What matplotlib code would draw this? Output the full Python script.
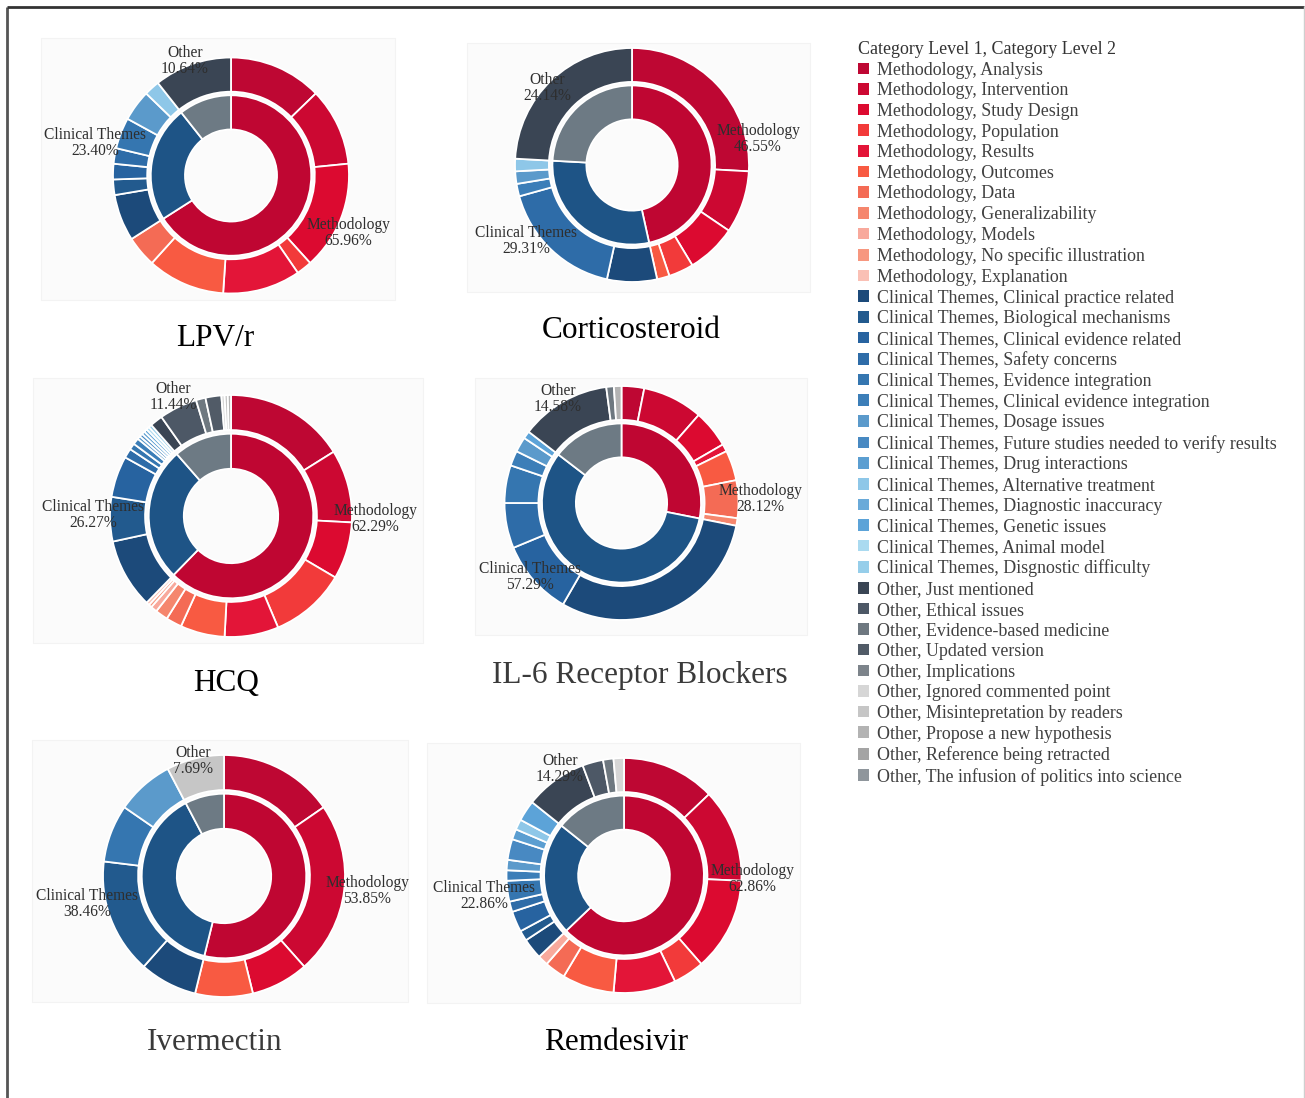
import matplotlib
matplotlib.use('Agg')
import matplotlib.pyplot as plt
from matplotlib.patches import Patch, Rectangle

plt.rcParams['font.family'] = ['Liberation Serif', 'DejaVu Serif']

W, H = 1305, 1098

# ---------------- data ----------------
group_names = ['Methodology', 'Clinical Themes', 'Other']

meth_names = ['Analysis', 'Intervention', 'Study Design', 'Population', 'Results',
              'Outcomes', 'Data', 'Generalizability', 'Models',
              'No specific illustration', 'Explanation']
clin_names = ['Clinical practice related', 'Biological mechanisms',
              'Clinical evidence related', 'Safety concerns', 'Evidence integration',
              'Clinical evidence integration', 'Dosage issues',
              'Future studies needed to verify results', 'Drug interactions',
              'Alternative treatment', 'Diagnostic inaccuracy', 'Genetic issues',
              'Animal model', 'Disgnostic difficulty']
other_names = ['Just mentioned', 'Ethical issues', 'Evidence-based medicine',
               'Updated version', 'Implications', 'Ignored commented point',
               'Misintepretation by readers', 'Propose a new hypothesis',
               'Reference being retracted', 'The infusion of politics into science']

meth_colors = ['#BE0733', '#CC0832', '#DC0A30', '#F23A3A', '#E31538', '#F85A42',
               '#F46B55', '#F5866D', '#F8A99C', '#F7977F', '#FAC0B5']
clin_colors = ['#1C4A7A', '#225A8E', '#2763A0', '#2E6CA8', '#3576B0', '#3C7EB8',
               '#5B9ACB', '#4889C2', '#5B9ED1', '#8EC7E8', '#6AAAD9', '#5CA3D8',
               '#AADAF0', '#96CEEA']
other_colors = ['#3A4554', '#4D5866', '#6E7880', '#515B67', '#7D848B', '#D6D6D6',
                '#C6C6C6', '#B3B3B3', '#A4A4A4', '#8F969C']
inner_colors = ['#BF0632', '#1E5486', '#6D7A84']

drugs = ['LPV/r', 'Corticosteroid', 'HCQ', 'IL-6 Receptor Blockers',
         'Ivermectin', 'Remdesivir']
group_pct = [['65.96%', '23.40%', '10.64%'],
             ['46.55%', '29.31%', '24.14%'],
             ['62.29%', '26.27%', '11.44%'],
             ['28.12%', '57.29%', '14.58%'],
             ['53.85%', '38.46%', '7.69%'],
             ['62.86%', '22.86%', '14.29%']]

lpv_meth = [6, 5, 7, 1, 5, 5, 2, 0, 0, 0, 0]
lpv_clin = [3, 1, 1, 1, 2, 0, 2, 0, 0, 1, 0, 0, 0, 0]
lpv_other = [5, 0, 0, 0, 0, 0, 0, 0, 0, 0]

cort_meth = [15, 5, 4, 2, 0, 1, 0, 0, 0, 0, 0]
cort_clin = [4, 0, 0, 10, 0, 1, 1, 0, 0, 1, 0, 0, 0, 0]
cort_other = [14, 0, 0, 0, 0, 0, 0, 0, 0, 0]

hcq_meth = [38, 23, 18, 24, 17, 14, 5, 4, 2, 1, 1]
hcq_clin = [22, 14, 13, 3, 2, 2, 1, 1, 1, 0, 1, 0, 1, 1]
hcq_other = [4, 12, 3, 5, 0, 1, 1, 1, 0, 0]

il6_meth = [3, 8, 5, 0, 1, 4, 5, 1, 0, 0, 0]
il6_clin = [29, 0, 10, 6, 5, 2, 2, 0, 0, 0, 0, 1, 0, 0]
il6_other = [12, 0, 1, 0, 0, 0, 0, 1, 0, 0]

iver_meth = [2, 3, 1, 0, 0, 1, 0, 0, 0, 0, 0]
iver_clin = [1, 2, 0, 0, 1, 0, 1, 0, 0, 0, 0, 0, 0, 0]
iver_other = [0, 0, 0, 0, 0, 0, 1, 0, 0, 0]

rem_meth = [9, 9, 9, 3, 6, 5, 2, 0, 1, 0, 0]
rem_clin = [2, 1, 2, 1, 2, 1, 1, 2, 1, 1, 0, 2, 0, 0]
rem_other = [6, 2, 1, 0, 0, 1, 0, 0, 0, 0]

drug_meth = [lpv_meth, cort_meth, hcq_meth, il6_meth, iver_meth, rem_meth]
drug_clin = [lpv_clin, cort_clin, hcq_clin, il6_clin, iver_clin, rem_clin]
drug_other = [lpv_other, cort_other, hcq_other, il6_other, iver_other, rem_other]

# ---------------- layout (reference pixel coords, y down) ----------------
centers = [(231, 175.5), (632, 165), (231, 516), (621.5, 503), (224, 876), (624, 875.5)]
radii = [118, 117, 121, 117, 121, 117.5]
panels = [(41, 38, 395, 300), (467, 43, 810, 292), (33, 378, 423, 643),
          (475, 378, 807, 635), (32, 740, 408, 1002), (427, 743, 800, 1003)]
title_pos = [(215, 338), (631, 330), (226, 683), (640, 676), (215, 1042), (616, 1043)]
title_colors = ['#000000', '#000000', '#000000', '#3a3a3a', '#3a3a3a', '#000000']
label_pos = [
    [(348, 233), (95, 143), (185, 61)],
    [(758, 139), (526, 241), (547, 88)],
    [(375, 519), (93, 515), (173, 397)],
    [(760, 499), (530, 577), (558, 399)],
    [(367, 891), (87, 904), (193, 761)],
    [(752, 879), (484, 896), (560, 769)],
]

OUT_W = 0.29   # ring width relative to outer radius
IN_R = 0.68    # inner ring radius relative to outer radius

fig = plt.figure(figsize=(W / 100, H / 100), dpi=100)
ax = fig.add_axes([0, 0, 1, 1])

for i, name in enumerate(drugs):
    cx, cy = centers[i]
    R = radii[i]
    x0, y0, x1, y1 = panels[i]
    ax.add_patch(Rectangle((x0, H - y1), x1 - x0, y1 - y0, facecolor='#fbfbfb',
                           edgecolor='#f3f3f3', linewidth=0.8, zorder=0))

    vals, cols = [], []
    for counts, colors in ((drug_meth[i], meth_colors), (drug_clin[i], clin_colors),
                           (drug_other[i], other_colors)):
        for v, c in zip(counts, colors):
            if v > 0:
                vals.append(v)
                cols.append(c)
    ax.pie(vals, radius=R, center=(cx, H - cy), startangle=90, counterclock=False,
           colors=cols, frame=True,
           wedgeprops=dict(width=OUT_W * R, edgecolor='white', linewidth=1.3))

    inner_vals = [sum(drug_meth[i]), sum(drug_clin[i]), sum(drug_other[i])]
    ax.pie(inner_vals, radius=IN_R * R, center=(cx, H - cy), startangle=90,
           counterclock=False, colors=inner_colors, frame=True,
           wedgeprops=dict(width=OUT_W * R, edgecolor='white', linewidth=1.3))

    for g in range(3):
        lx, ly = label_pos[i][g]
        ax.text(lx, H - ly, f'{group_names[g]}\n{group_pct[i][g]}', ha='center',
                va='center', fontsize=11.2, color='#2e2e2e', linespacing=1.05,
                zorder=5)

    tx, ty = title_pos[i]
    ax.text(tx, H - ty, name, ha='center', va='center', fontsize=22.5,
            color=title_colors[i])

# outer frame lines
ax.plot([7, 7], [H - 7, 0], color='#555555', linewidth=2, solid_capstyle='butt')
ax.plot([7, 1304], [H - 7, H - 7], color='#333333', linewidth=2, solid_capstyle='butt')
ax.plot([1304, 1304], [H - 7, 0], color='#cfcfcf', linewidth=1)

ax.set_xlim(0, W)
ax.set_ylim(0, H)
ax.set_aspect('equal')
ax.axis('off')

handles = []
for gname, names, colors in ((group_names[0], meth_names, meth_colors),
                             (group_names[1], clin_names, clin_colors),
                             (group_names[2], other_names, other_colors)):
    for n, c in zip(names, colors):
        handles.append(Patch(facecolor=c, edgecolor='none', label=f'{gname}, {n}'))

leg = ax.legend(handles=handles, loc='upper left',
                bbox_to_anchor=(858 / W, 1 - 41 / H), bbox_transform=fig.transFigure,
                frameon=False, fontsize=12.9, title='Category Level 1, Category Level 2',
                title_fontsize=12.9, alignment='left', handlelength=0.62,
                handleheight=0.62, handletextpad=0.45, labelspacing=0.203,
                borderpad=0, borderaxespad=0)
for t in leg.get_texts():
    t.set_color('#404040')
leg.get_title().set_color('#333333')

fig.savefig('out.png', dpi=100)
